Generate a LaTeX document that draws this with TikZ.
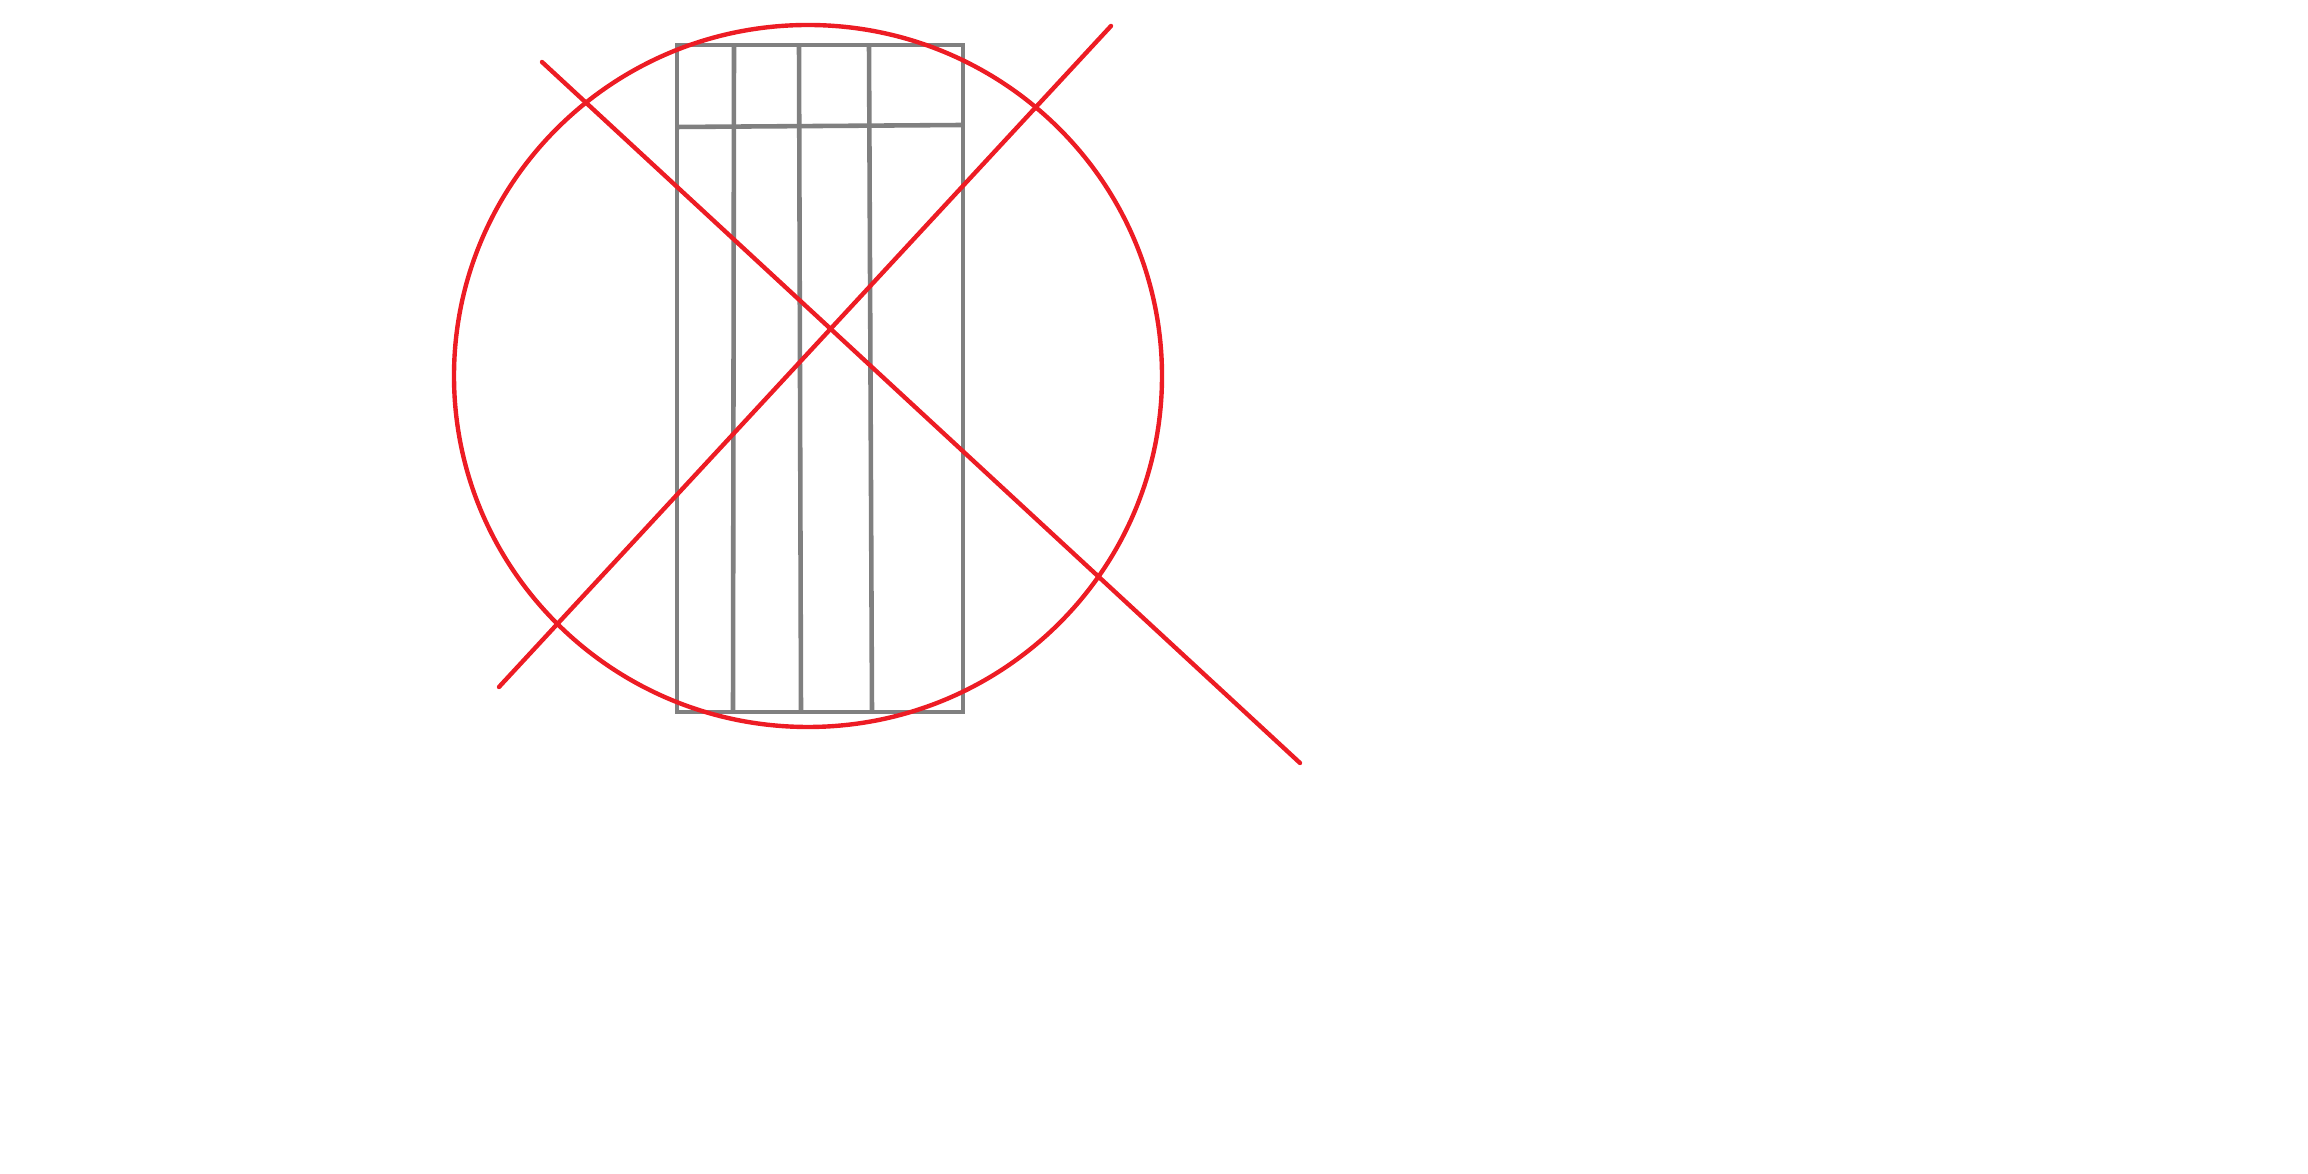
\documentclass[tikz,border=0pt]{standalone}
\definecolor{pengray}{RGB}{128,128,128}
\definecolor{penred}{RGB}{237,28,36}
\begin{document}
\begin{tikzpicture}[x=0.01cm,y=-0.01cm,
  grayline/.style={draw=pengray,line width=1.3pt},
  redline/.style={draw=penred,line width=1.25pt,line cap=round}]
\useasboundingbox (0,0) rectangle (2308,1174);
% rectangle with grid
\draw[grayline] (677,45) rectangle (963,712);
\draw[grayline] (734,45) -- (733,712);
\draw[grayline] (799,45) -- (801,712);
\draw[grayline] (869,45) -- (872,712);
\draw[grayline] (677,127) -- (963,125);
% circle
\draw[redline] (808,376) ellipse [x radius=354, y radius=351];
% crossing lines
\draw[redline] (542,62) -- (1300,763);
\draw[redline] (499,687) -- (1111,26);
\end{tikzpicture}
\end{document}
